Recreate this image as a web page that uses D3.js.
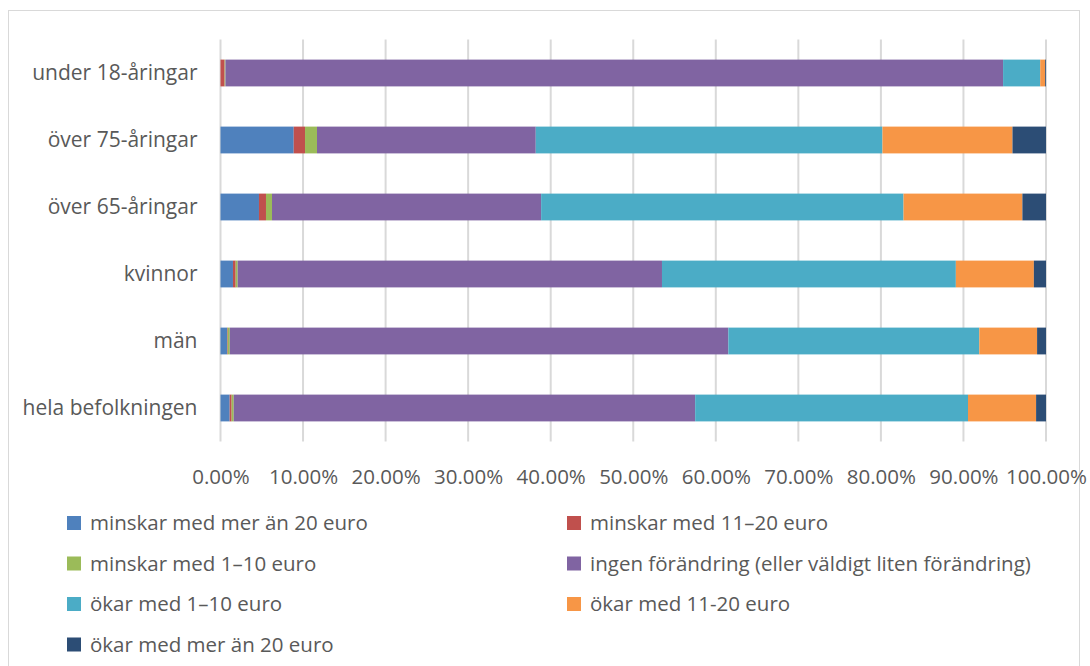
<!DOCTYPE html>
<html><head><meta charset="utf-8">
<script src="https://cdn.jsdelivr.net/npm/d3@7"></script>
<style>body{margin:0;background:#fff}svg{display:block}</style>
</head><body><svg id="c" width="1090" height="666"></svg>
<script>
const categories = ["under 18-åringar","över 75-åringar","över 65-åringar","kvinnor","män","hela befolkningen"];
const seriesNames = ["minskar med mer än 20 euro","minskar med 11–20 euro","minskar med 1–10 euro","ingen förändring (eller väldigt liten förändring)","ökar med 1–10 euro","ökar med 11-20 euro","ökar med mer än 20 euro"];
const minskarOver20 = [0.0, 8.87, 4.66, 1.51, 0.79, 1.11];
const minskar11_20  = [0.5, 1.37, 0.85, 0.33, 0.08, 0.24];
const minskar1_10   = [0.1, 1.45, 0.73, 0.24, 0.25, 0.25];
const ingen         = [94.2, 26.5, 32.6, 51.4, 60.4, 55.9];
const okar1_10      = [4.5, 42.0, 43.9, 35.6, 30.4, 33.05];
const okar11_20     = [0.6, 15.75, 14.4, 9.45, 7.0, 8.25];
const okarOver20    = [0.1, 4.06, 2.86, 1.47, 1.08, 1.2];
const tickValues = [0,0.1,0.2,0.3,0.4,0.5,0.6,0.7,0.8,0.9,1.0];
const colors = ["#4F81BD","#C0504D","#9BBB59","#8064A2","#4BACC6","#F79646","#2C4D75"];

const seriesVals = [minskarOver20,minskar11_20,minskar1_10,ingen,okar1_10,okar11_20,okarOver20];
const rows = categories.map((c,i)=>{
  const o={cat:c}; let tot=0;
  seriesVals.forEach(s=>tot+=s[i]);
  seriesNames.forEach((n,k)=>o[n]=seriesVals[k][i]/tot);
  return o;
});
const stack = d3.stack().keys(seriesNames)(rows);

const svg = d3.select("#c");
const font = "'Open Sans', sans-serif";
const txt = "#595959";
svg.append("rect").attr("x",8.5).attr("y",10.5).attr("width",1071).attr("height",670)
  .attr("fill","#fff").attr("stroke","#d9d9d9").attr("stroke-width",1);

const x = d3.scaleLinear().domain([0,1]).range([220.5,1046]);
const y = d3.scaleBand().domain(categories).range([39.5,441.5]).paddingInner(0.6).paddingOuter(0.3);

svg.append("g").selectAll("line").data(tickValues).join("line")
  .attr("x1",d=>x(d)).attr("x2",d=>x(d)).attr("y1",39.5).attr("y2",441.5)
  .attr("stroke","#d9d9d9").attr("stroke-width",2);

svg.append("g").selectAll("g").data(stack).join("g")
  .attr("fill",(d,i)=>colors[i])
  .selectAll("rect").data(d=>d).join("rect")
  .attr("x",d=>x(d[0])).attr("width",d=>Math.max(0,x(d[1])-x(d[0])))
  .attr("y",d=>y(d.data.cat)).attr("height",y.bandwidth());

const ax = d3.axisLeft(y).tickSize(0).tickPadding(23);
const gy = svg.append("g").attr("transform","translate(220.5,0)").call(ax);
gy.select(".domain").remove();
gy.selectAll("text").attr("font-family",font).attr("font-size",21).attr("fill",txt);

const axb = d3.axisBottom(x).tickValues(tickValues).tickSize(0).tickPadding(0)
  .tickFormat(d=>(d*100).toFixed(2)+"%");
const gx = svg.append("g").attr("transform","translate(0,469)").call(axb);
gx.select(".domain").remove();
gx.selectAll("text").attr("font-family",font).attr("font-size",20.5).attr("fill",txt).attr("dy","0.71em");

const leg = svg.append("g").selectAll("g").data(seriesNames).join("g")
  .attr("transform",(d,i)=>`translate(${i%2===0?67:567},${516+Math.floor(i/2)*40.5})`);
leg.append("rect").attr("width",14).attr("height",14).attr("fill",(d,i)=>colors[i]);
leg.append("text").attr("x",23).attr("y",7).attr("dy","0.35em")
  .attr("font-family",font).attr("font-size",20.5).attr("fill",txt).text(d=>d);
</script></body></html>
